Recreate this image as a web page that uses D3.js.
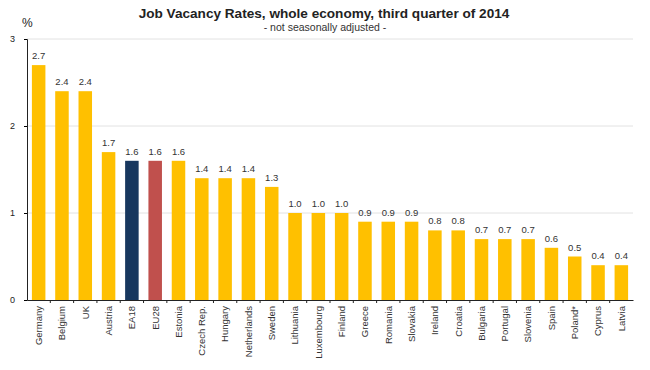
<!DOCTYPE html>
<html>
<head>
<meta charset="utf-8">
<script src="https://d3js.org/d3.v7.min.js"></script>
<style>
    body { margin: 0; background: #fff; }
    svg text { font-family: "Liberation Sans", Arial, sans-serif; fill: #222; }
    .grid line { stroke: #e2e2e2; }
    .x-axis path, .y-axis path { stroke: #222; }
</style>
</head>
<body>
<div id="chart-container"></div>
<script>
    // Data
    const countries = ['Germany', 'Belgium', 'UK', 'Austria', 'EA18', 'EU28', 'Estonia', 'Czech Rep.',
        'Hungary', 'Netherlands', 'Sweden', 'Lithuania', 'Luxembourg', 'Finland', 'Greece', 'Romania',
        'Slovakia', 'Ireland', 'Croatia', 'Bulgaria', 'Portugal', 'Slovenia', 'Spain', 'Poland*', 'Cyprus', 'Latvia'];
    const rates = [2.7, 2.4, 2.4, 1.7, 1.6, 1.6, 1.6, 1.4, 1.4, 1.4, 1.3, 1.0, 1.0, 1.0, 0.9, 0.9,
        0.9, 0.8, 0.8, 0.7, 0.7, 0.7, 0.6, 0.5, 0.4, 0.4];
    const yTicks = [0, 1, 2, 3];

    const colorFor = name => name === 'EA18' ? '#17375e' : name === 'EU28' ? '#c0504d' : '#ffc000';

    const width = 650, height = 370;
    const margin = { top: 39, right: 17, bottom: 70, left: 27 };

    const svg = d3.select('#chart-container')
        .append('svg')
        .attr('width', width)
        .attr('height', height);

    const xScale = d3.scaleBand()
        .domain(countries)
        .range([margin.left, width - margin.right])
        .paddingInner(0.42)
        .paddingOuter(0.21);

    const yScale = d3.scaleLinear()
        .domain([0, 3])
        .range([height - margin.bottom, margin.top]);

    // Gridlines
    svg.append('g')
        .attr('class', 'grid')
        .selectAll('line')
        .data(yTicks.filter(t => t > 0))
        .enter()
        .append('line')
        .attr('x1', margin.left)
        .attr('x2', width - margin.right)
        .attr('y1', d => yScale(d))
        .attr('y2', d => yScale(d));

    // Bars
    svg.selectAll('.bar')
        .data(countries)
        .enter()
        .append('rect')
        .attr('class', 'bar')
        .attr('x', d => xScale(d))
        .attr('y', (d, i) => yScale(rates[i]))
        .attr('width', xScale.bandwidth())
        .attr('height', (d, i) => yScale(0) - yScale(rates[i]))
        .attr('fill', d => colorFor(d));

    // Value labels
    svg.selectAll('.value-label')
        .data(countries)
        .enter()
        .append('text')
        .attr('class', 'value-label')
        .attr('x', d => xScale(d) + xScale.bandwidth() / 2)
        .attr('y', (d, i) => yScale(rates[i]) - 6)
        .attr('text-anchor', 'middle')
        .style('font-size', '9.5px')
        .style('fill', '#333')
        .text((d, i) => rates[i].toFixed(1));

    // Y axis
    svg.append('g')
        .attr('class', 'y-axis')
        .attr('transform', `translate(${margin.left},0)`)
        .call(d3.axisLeft(yScale).tickValues(yTicks).tickFormat(d3.format('d')).tickSize(3).tickPadding(9))
        .selectAll('text')
        .style('font-size', '9px');

    // X axis, ticks between the categories
    const xAxis = svg.append('g')
        .attr('class', 'x-axis')
        .attr('transform', `translate(0,${yScale(0)})`)
        .call(d3.axisBottom(xScale).tickSize(0).tickPadding(0).tickSizeOuter(0));
    xAxis.selectAll('text')
        .style('font-size', '9.5px')
        .style('fill', '#333')
        .style('text-anchor', 'end')
        .attr('dx', '-6px')
        .attr('dy', '0.35em')
        .attr('transform', 'rotate(-90)');
    xAxis.selectAll('.sep')
        .data(countries.slice(1))
        .enter()
        .append('line')
        .attr('class', 'sep')
        .attr('x1', d => xScale(d) - xScale.step() * 0.21)
        .attr('x2', d => xScale(d) - xScale.step() * 0.21)
        .attr('y1', 0)
        .attr('y2', 3)
        .attr('stroke', '#222');

    // Titles
    svg.append('text')
        .attr('x', 324)
        .attr('y', 18)
        .attr('text-anchor', 'middle')
        .style('font-size', '13.6px')
        .style('font-weight', 'bold')
        .text('Job Vacancy Rates, whole economy, third quarter of 2014');

    svg.append('text')
        .attr('x', 325)
        .attr('y', 31)
        .attr('text-anchor', 'middle')
        .style('font-size', '10.5px')
        .style('fill', '#333')
        .text('- not seasonally adjusted -');

    svg.append('text')
        .attr('x', 22)
        .attr('y', 27)
        .style('font-size', '12px')
        .text('%');
</script>
</body>
</html>
